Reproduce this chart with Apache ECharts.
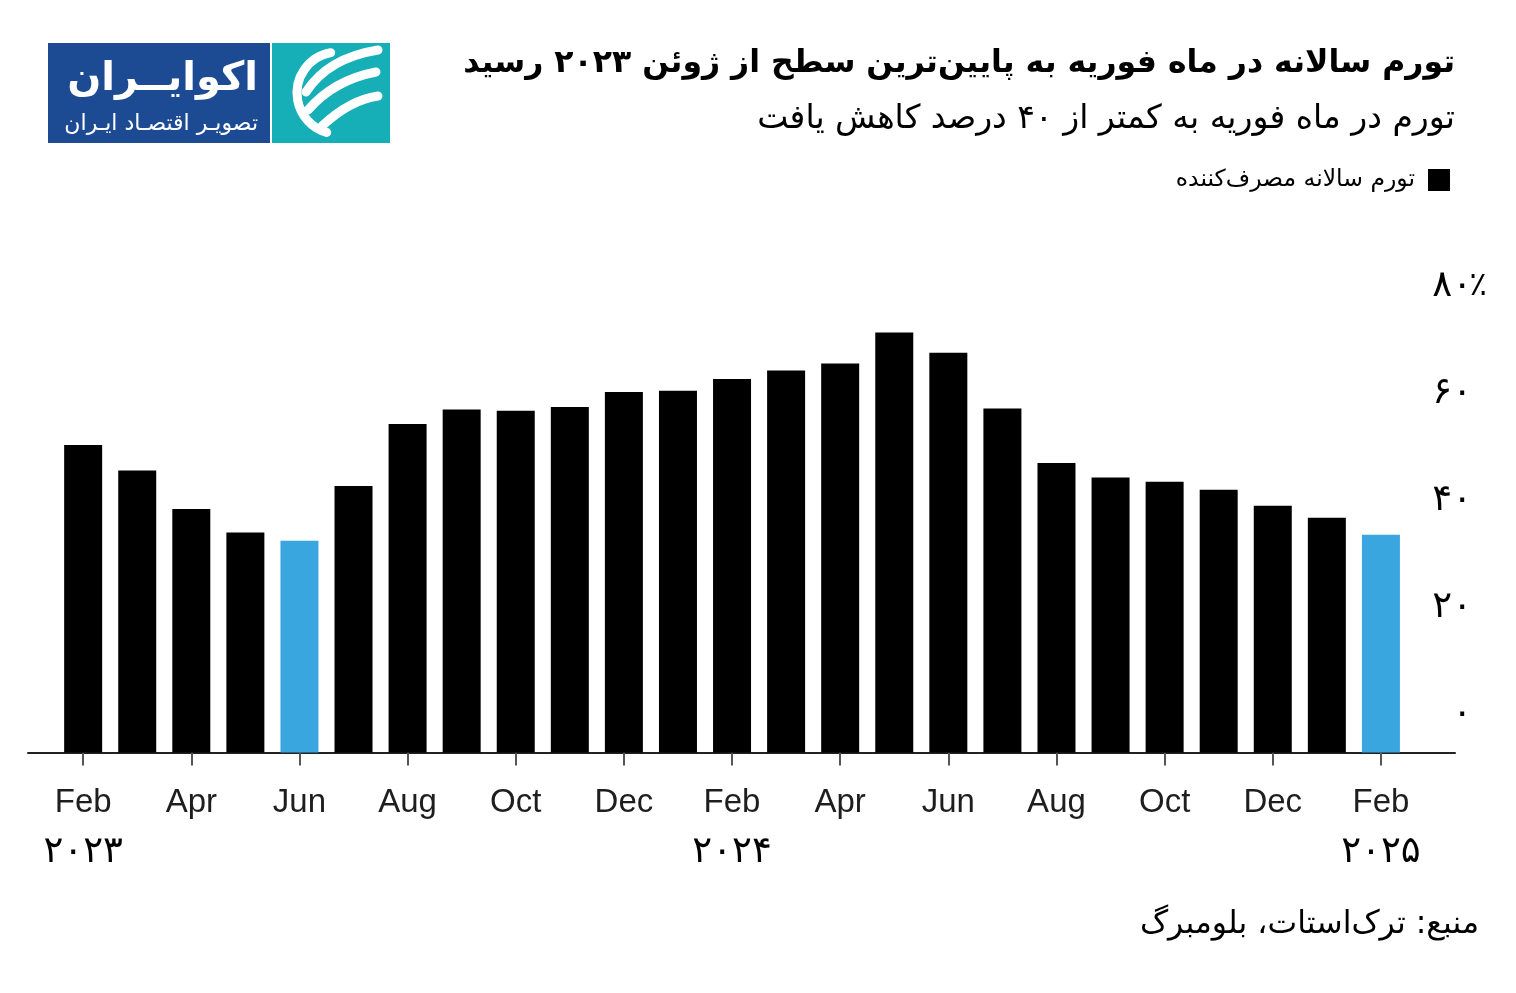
<!DOCTYPE html>
<html><head><meta charset="utf-8">
<script src="https://cdn.jsdelivr.net/npm/echarts@6/dist/echarts.min.js"></script>
<style>html,body{margin:0;padding:0;background:#fff}#c{width:1516px;height:993px}</style>
</head><body><div id="c"></div>
<script>
// Months (Feb 2023 .. Feb 2025)
const months = ['Feb','Mar','Apr','May','Jun','Jul','Aug','Sep','Oct','Nov','Dec','Jan',
                'Feb','Mar','Apr','May','Jun','Jul','Aug','Sep','Oct','Nov','Dec','Jan','Feb'];
// Annual consumer inflation (%)
const inflation = [57.5, 52.7, 45.5, 41.1, 39.6, 49.8, 61.4, 64.1, 63.9, 64.6, 67.4, 67.6,
                   69.8, 71.4, 72.7, 78.5, 74.7, 64.3, 54.1, 51.4, 50.6, 49.1, 46.1, 43.9, 40.7];
const highlighted = [4, 24];
const tickIdx = [0,2,4,6,8,10,12,14,16,18,20,22,24];
const yearLabels = {0:'۲۰۲۳', 12:'۲۰۲۴', 24:'۲۰۲۵'};
const yTicks = {0:'۰', 20:'۲۰', 40:'۴۰', 60:'۶۰', 80:'۸۰'};
const seriesName = 'تورم سالانه مصرف‌کننده';
const titleText = 'تورم سالانه در ماه فوریه به پایین‌ترین سطح از ژوئن ۲۰۲۳ رسید';
const subtitleText = 'تورم در ماه فوریه به کمتر از ۴۰ درصد کاهش یافت';
const sourceText = 'منبع: ترک‌استات، بلومبرگ';

const FA = "'DejaVu Sans', sans-serif";
const chart = echarts.init(document.getElementById('c'), null, {renderer:'canvas'});

const barData = inflation.map((v,i)=>({
  value:[i,v],
  itemStyle:{color: highlighted.includes(i) ? '#3aa6df' : '#000'}
}));

const white = {fill:null, stroke:'#fff', lineWidth:9, lineCap:'round'};

chart.setOption({
  backgroundColor:'#fff',
  animation:false,
  title:[
    {text:titleText, right:56, top:43, textStyle:{fontFamily:FA, fontWeight:'bold', fontSize:31.5, color:'#000'}},
    {text:subtitleText, right:56, top:98, textStyle:{fontFamily:FA, fontWeight:'normal', fontSize:33, color:'#000'}},
    {text:sourceText, right:32, top:904, textStyle:{fontFamily:FA, fontWeight:'normal', fontSize:31.5, color:'#000'}}
  ],
  legend:{
    right:66, top:168, padding:0, align:'right', itemWidth:22, itemHeight:22, icon:'rect',
    textStyle:{fontFamily:FA, fontSize:23.5, color:'#000', padding:[0,8,0,0]},
    data:[seriesName]
  },
  grid:{left:28, right:61, top:324.5, bottom:240.5},
  xAxis:{
    type:'value', min:-1.02, max:25.37,
    splitLine:{show:false},
    axisLine:{show:true, onZero:false, lineStyle:{color:'#222', width:2}},
    axisTick:{show:true, customValues:tickIdx, length:13, lineStyle:{color:'#555', width:2}},
    axisLabel:{
      customValues:tickIdx, margin:32,
      formatter:function(v){
        const m = months[v];
        return yearLabels[v] ? '{m|'+m+'}\n{y|'+yearLabels[v]+'}' : '{m|'+m+'}';
      },
      rich:{
        m:{fontFamily:"'Liberation Sans', Arial, sans-serif", fontSize:33, color:'#1e1e1e', lineHeight:36, align:'center'},
        y:{fontFamily:FA, fontSize:37, fontWeight:'normal', color:'#000', lineHeight:64, align:'center'}
      }
    }
  },
  yAxis:{
    type:'value', position:'right', min:0, max:80, interval:20,
    splitLine:{show:false}, axisLine:{show:false}, axisTick:{show:false},
    axisLabel:{
      align:'right', margin:32, verticalAlign:'middle', padding:[0,0,76,0],
      formatter:function(v){
        return v===80 ? '{n|'+yTicks[v]+'}{p|٪}' : '{n|'+yTicks[v]+'}{s|}';
      },
      rich:{
        n:{fontFamily:FA, fontSize:37, fontWeight:'normal', color:'#000'},
        p:{fontFamily:FA, fontSize:33, fontWeight:'normal', color:'#000', width:15},
        s:{width:15}
      }
    }
  },
  series:[{
    name:seriesName, type:'bar', barWidth:38, itemStyle:{color:'#000'},
    data:barData
  }],
  graphic:[
    {type:'rect', shape:{x:48, y:43, width:222, height:100}, style:{fill:'#1d4b93'}},
    {type:'rect', shape:{x:272, y:43, width:118, height:100}, style:{fill:'#17afb7'}},
    {type:'text', style:{text:'اکوایــران', x:258, y:80, textAlign:'right', textVerticalAlign:'middle', font:"bold 40px 'DejaVu Sans'", fill:'#fff'}},
    {type:'text', style:{text:'تصویـر اقتصـاد ایـران', x:258, y:124, textAlign:'right', textVerticalAlign:'middle', font:"22px 'DejaVu Sans'", fill:'#fff'}},
    // swirl icon
    {type:'arc', shape:{cx:338, cy:93, r:41, startAngle:-1.75, endAngle:1.85, clockwise:false}, style:white},
    {type:'bezierCurve', shape:{x1:306, y1:92, cpx1:328, cpy1:58, x2:378, y2:50}, style:white},
    {type:'bezierCurve', shape:{x1:308, y1:110, cpx1:334, cpy1:80, x2:376, y2:72}, style:white},
    {type:'bezierCurve', shape:{x1:322, y1:126, cpx1:350, cpy1:100, x2:378, y2:96}, style:white}
  ]
});
</script></body></html>
